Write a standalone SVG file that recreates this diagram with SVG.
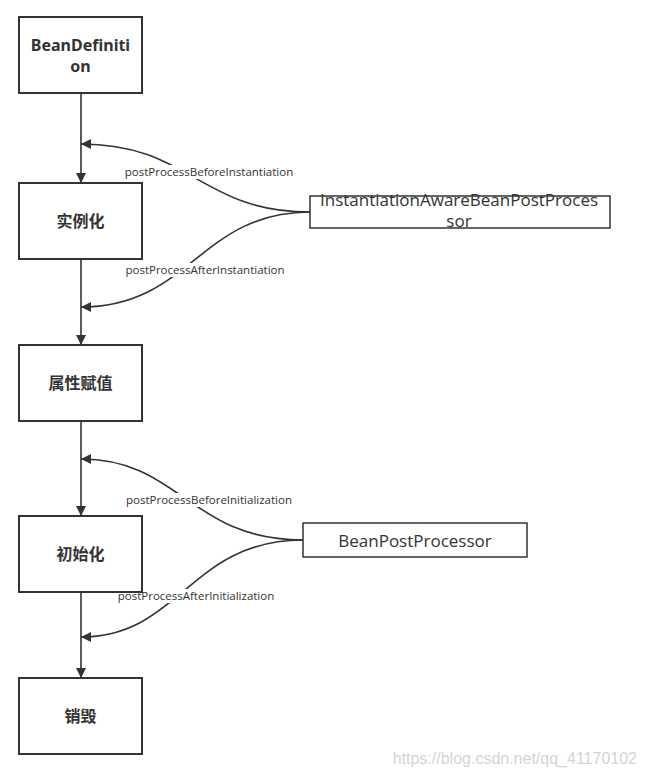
<svg xmlns="http://www.w3.org/2000/svg" width="645" height="777" viewBox="0 0 645 777">
<style>
.box{fill:#fff;stroke:#333;stroke-width:2}
.t{font-family:"Noto Sans","Noto Sans CJK SC",sans-serif;font-weight:bold;font-size:16px;fill:#333;text-anchor:middle}
.p{font-family:"Open Sans","Noto Sans",sans-serif;font-size:17px;fill:#333;text-anchor:middle}
.l{font-family:"Open Sans","Noto Sans",sans-serif;font-size:11.5px;fill:#333;text-anchor:middle}
.c{fill:none;stroke:#333;stroke-width:1.6}
.bg{fill:#fff}
</style>
<defs>
<marker id="ah" viewBox="0 0 10 10" refX="10" refY="5" markerWidth="10" markerHeight="10" markerUnits="userSpaceOnUse" orient="auto">
<path d="M0,0 L10,5 L0,10 z" fill="#333"/>
</marker>
</defs>
<g id="connectors">
<path class="c" d="M81,93 V183" marker-end="url(#ah)"/>
<path class="c" d="M81,259 V345" marker-end="url(#ah)"/>
<path class="c" d="M81,421 V516" marker-end="url(#ah)"/>
<path class="c" d="M81,592 V678" marker-end="url(#ah)"/>
<path class="c" d="M310,212 C200,212 190,144 81,144" marker-end="url(#ah)"/>
<path class="c" d="M310,212 C200,212 190,307 81,307" marker-end="url(#ah)"/>
<path class="c" d="M303,540 C190,540 180,459 81,459" marker-end="url(#ah)"/>
<path class="c" d="M303,540 C190,540 180,637 81,637" marker-end="url(#ah)"/>
<rect class="bg" x="123" y="165" width="172" height="14"/>
<text class="l" x="209" y="176">postProcessBeforeInstantiation</text>
<rect class="bg" x="123" y="263" width="164" height="14"/>
<text class="l" x="205" y="274">postProcessAfterInstantiation</text>
<rect class="bg" x="124" y="493" width="170" height="14"/>
<text class="l" x="209" y="504">postProcessBeforeInitialization</text>
<rect class="bg" x="115" y="589" width="162" height="14"/>
<text class="l" x="196" y="600">postProcessAfterInitialization</text>
</g>
<g id="bean-definition">
<rect class="box" x="19" y="17" width="123" height="76"/>
<text class="t" x="80.5" y="51">BeanDefiniti</text>
<text class="t" x="80.5" y="72">on</text>
</g>
<g id="instantiate">
<rect class="box" x="19" y="183" width="123" height="76"/>
<text class="t" x="80.5" y="227">实例化</text>
</g>
<g id="populate">
<rect class="box" x="19" y="345" width="123" height="76"/>
<text class="t" x="80.5" y="389">属性赋值</text>
</g>
<g id="initialize">
<rect class="box" x="19" y="516" width="123" height="76"/>
<text class="t" x="80.5" y="560">初始化</text>
</g>
<g id="destroy">
<rect class="box" x="19" y="678" width="123" height="76"/>
<text class="t" x="80.5" y="722">销毁</text>
</g>
<g id="iabpp">
<rect fill="#fff" stroke="#333" stroke-width="1.5" x="310" y="196" width="300" height="32"/>
<text class="p" x="459" y="206">InstantiationAwareBeanPostProces</text>
<text class="p" x="459" y="227">sor</text>
</g>
<g id="bpp">
<rect fill="#fff" stroke="#333" stroke-width="1.5" x="303" y="523" width="224" height="34"/>
<text class="p" x="415" y="547">BeanPostProcessor</text>
</g>
<text x="637" y="764" font-family="'Liberation Sans',sans-serif" font-size="16px" fill="#d4d4d4" text-anchor="end">https://blog.csdn.net/qq_41170102</text>
</svg>
